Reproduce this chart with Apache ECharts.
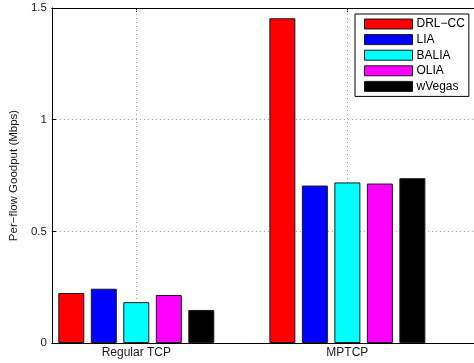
<!DOCTYPE html>
<html>
<head>
<meta charset="utf-8">
<script src="https://cdn.jsdelivr.net/npm/echarts@6/dist/echarts.min.js"></script>
<style>
  html, body { margin: 0; padding: 0; background: #fff; }
  #chart { width: 474px; height: 363px; }
</style>
</head>
<body>
<div id="chart"></div>
<script>
// Per-flow goodput for each congestion-control scheme, grouped by flow type
const categories = ['Regular TCP', 'MPTCP'];
const categoryPos = [1, 2];
const seriesNames = ['DRL\u2212CC', 'LIA', 'BALIA', 'OLIA', 'wVegas'];
const drlcc = [0.224, 1.454];
const lia = [0.243, 0.705];
const balia = [0.183, 0.719];
const olia = [0.215, 0.714];
const wvegas = [0.148, 0.738];
const yTicks = [0, 0.5, 1, 1.5];

const values = [drlcc, lia, balia, olia, wvegas];
const colors = ['#ff0000', '#0000ff', '#00ffff', '#ff00ff', '#000000'];
const font = 'Liberation Sans, Arial, Helvetica, sans-serif';

const chart = echarts.init(document.getElementById('chart'));

const series = seriesNames.map((name, i) => ({
  name: name,
  type: 'bar',
  barWidth: 26,
  barGap: '25%',
  z: 3,
  itemStyle: { color: colors[i], borderColor: '#1a1a1a', borderWidth: 1 },
  emphasis: { disabled: true },
  data: categoryPos.map((x, j) => [x, values[i][j]])
}));

// dotted vertical grid lines through the group centres, kept under the bars
series.push({
  type: 'line',
  data: [],
  silent: true,
  markLine: {
    silent: true,
    z: 1,
    symbol: 'none',
    label: { show: false },
    lineStyle: { color: '#9a9a9a', type: [1, 3], width: 1 },
    data: categoryPos.map(x => ({ xAxis: x }))
  }
});

chart.setOption({
  animation: false,
  backgroundColor: '#fff',
  textStyle: { fontFamily: font },
  grid: { left: 51, top: 8, right: -2, bottom: 20, containLabel: false },
  legend: {
    orient: 'vertical',
    left: 355,
    top: 14,
    data: seriesNames,
    selectedMode: false,
    backgroundColor: '#fff',
    borderColor: '#000',
    borderWidth: 1,
    borderRadius: 0,
    padding: [4, 4, 4, 9],
    itemWidth: 48,
    itemHeight: 10,
    itemGap: 3.6,
    icon: 'rect',
    itemStyle: { borderColor: '#1a1a1a', borderWidth: 1 },
    textStyle: { fontFamily: font, fontSize: 12, color: '#000', lineHeight: 12, padding: [0, 0, 0, -1] }
  },
  xAxis: [
    {
      type: 'value',
      min: 0.6,
      max: 2.6,
      position: 'bottom',
      axisLine: { show: true, lineStyle: { color: '#000', width: 1 } },
      axisTick: { show: true, inside: true, length: 4, customValues: categoryPos, lineStyle: { color: '#000' } },
      axisLabel: {
        show: true,
        customValues: categoryPos,
        margin: 4,
        fontFamily: font,
        fontSize: 12,
        color: '#1a1a1a',
        formatter: v => categories[categoryPos.indexOf(v)] || ''
      },
      splitLine: { show: false }
    },
    {
      type: 'value',
      min: 0.6,
      max: 2.6,
      position: 'top',
      axisLine: { show: true, lineStyle: { color: '#000', width: 1 } },
      axisTick: { show: true, inside: true, length: 4, customValues: categoryPos, lineStyle: { color: '#000' } },
      axisLabel: { show: false },
      splitLine: { show: false }
    }
  ],
  yAxis: {
    type: 'value',
    min: 0,
    max: 1.5,
    interval: 0.5,
    name: 'Per\u2212flow Goodput (Mbps)',
    nameLocation: 'middle',
    nameGap: 27,
    nameTextStyle: { fontFamily: font, fontSize: 11.5, color: '#1a1a1a' },
    axisLine: { show: true, lineStyle: { color: '#000', width: 1 } },
    axisTick: { show: true, inside: true, length: 4, lineStyle: { color: '#000' } },
    axisLabel: {
      margin: 5,
      fontFamily: font,
      fontSize: 11.5,
      color: '#1a1a1a',
      formatter: v => (yTicks.indexOf(v) >= 0 ? String(v) : '')
    },
    splitLine: { show: true, lineStyle: { color: '#9a9a9a', type: [1, 3], width: 1 } }
  },
  series: series
});
</script>
</body>
</html>
